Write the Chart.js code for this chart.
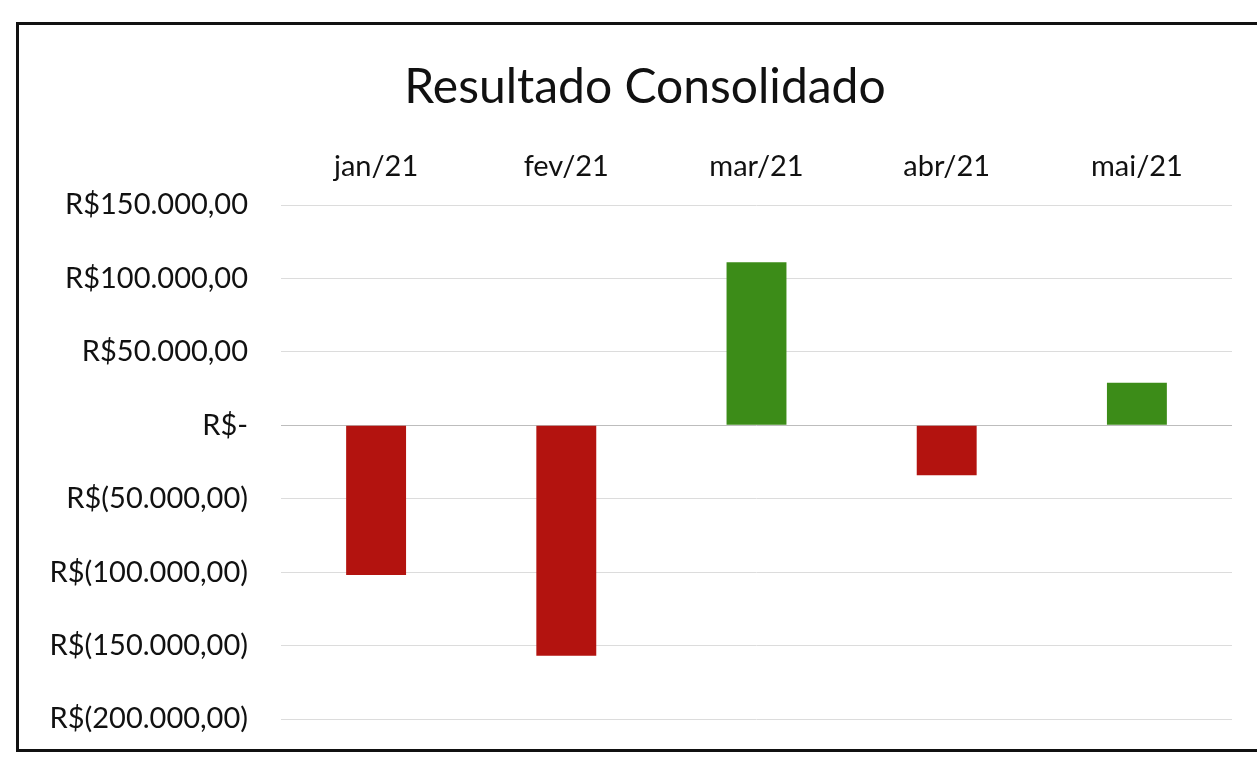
<!DOCTYPE html>
<html>
<head>
<meta charset="utf-8">
<script src="https://cdn.jsdelivr.net/npm/chart.js@4/dist/chart.umd.min.js"></script>
<style>
  html, body { margin: 0; padding: 0; background: #fff; }
  #wrap { position: relative; width: 1257px; height: 759px; overflow: hidden; }
  #frame {
    position: absolute; left: 16px; top: 22px; width: 1300px; height: 730px;
    border: 3px solid #111; border-right: none; box-sizing: border-box;
  }
</style>
</head>
<body>
<div id="wrap">
  <canvas id="resultChart" width="1257" height="759"></canvas>
  <div id="frame"></div>
</div>
<script>
// data
const months = ['jan/21', 'fev/21', 'mar/21', 'abr/21', 'mai/21'];
const results = [-102000, -157000, 111000, -34000, 29000];
const yTicks = [150000, 100000, 50000, 0, -50000, -100000, -150000, -200000];
const chartTitle = 'Resultado Consolidado';

const red = '#B3130F';
const green = '#3C8C18';

// R$ accounting style: R$150.000,00 / R$- / R$(50.000,00)
function brl(v) {
  if (v === 0) return 'R$-';
  const s = Math.abs(v).toFixed(0).replace(/\B(?=(\d{3})+(?!\d))/g, '.') + ',00';
  return v < 0 ? 'R$(' + s + ')' : 'R$' + s;
}

// title drawn over the whole frame, not just the plot box
const titlePlugin = {
  id: 'frameTitle',
  afterDraw(chart) {
    const c = chart.ctx;
    c.save();
    c.fillStyle = '#111';
    c.font = '48px Lato';
    c.textAlign = 'center';
    c.textBaseline = 'middle';
    c.fillText(chartTitle, 645, 88);
    c.restore();
  }
};

const ctx = document.getElementById('resultChart').getContext('2d');

new Chart(ctx, {
  type: 'bar',
  data: {
    labels: months,
    datasets: [{
      data: results,
      backgroundColor: results.map(v => v < 0 ? red : green),
      barPercentage: 0.315,
      categoryPercentage: 1
    }]
  },
  options: {
    responsive: false,
    animation: false,
    layout: { padding: { top: 113, left: 0, right: 25, bottom: 40 } },
    plugins: {
      legend: { display: false },
      tooltip: { enabled: false },
      title: { display: false }
    },
    scales: {
      x: {
        position: 'top',
        grid: { display: false, drawTicks: false },
        border: { display: false },
        ticks: {
          color: '#111',
          padding: 21,
          font: { family: 'Lato', size: 29 }
        },
        afterFit: s => { s.height = 92; }
      },
      y: {
        min: -200000,
        max: 150000,
        afterBuildTicks: s => { s.ticks = yTicks.map(v => ({ value: v })); },
        grid: {
          drawTicks: false,
          color: c => c.tick && c.tick.value === 0 ? '#bdbdbd' : '#dcdcdc',
          lineWidth: 1
        },
        border: { display: false },
        ticks: {
          color: '#111',
          padding: 33,
          font: { family: 'Lato', size: 29 },
          callback: v => brl(v)
        },
        afterFit: s => { s.width = 281; s.paddingTop = 0; s.paddingBottom = 0; }
      }
    }
  },
  plugins: [titlePlugin]
});
</script>
</body>
</html>
